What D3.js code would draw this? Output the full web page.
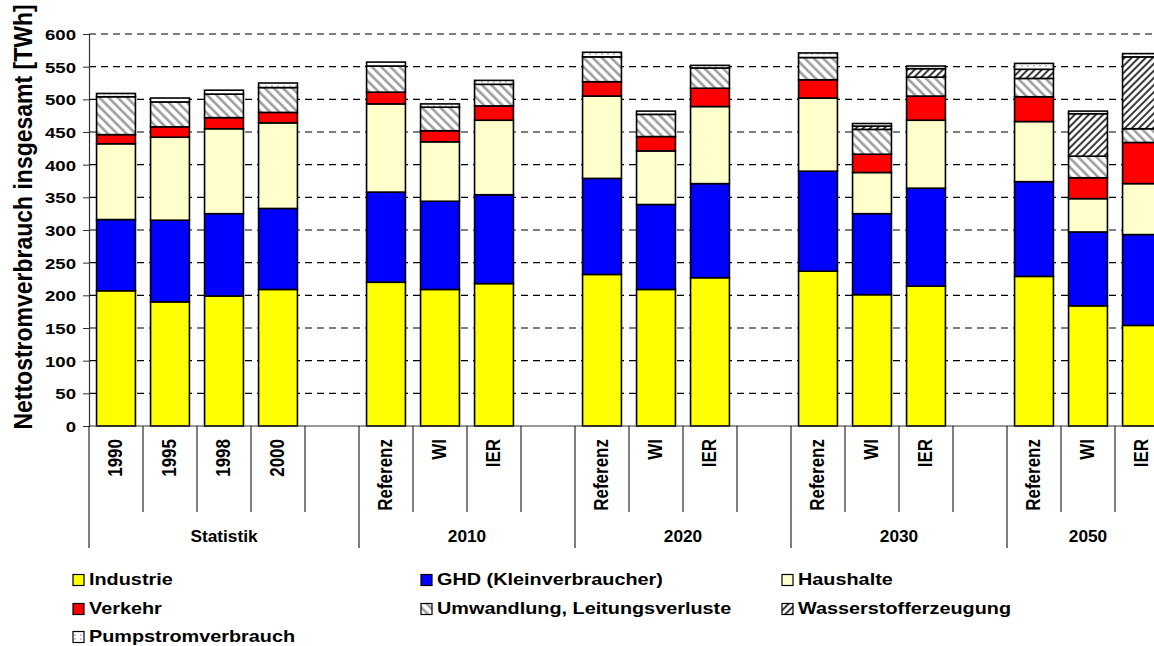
<!DOCTYPE html>
<html>
<head>
<meta charset="utf-8">
<script src="https://cdn.jsdelivr.net/npm/d3@7"></script>
<style>
  body { margin: 0; background: #fff; }
  svg { display: block; }
  text { font-family: "Liberation Sans", Arial, sans-serif; font-weight: bold; fill: #000; }
</style>
</head>
<body>
<svg id="chart" width="1154" height="646"></svg>
<script>
// Category slots (empty strings are spacer slots between groups)
const categories = ["1990", "1995", "1998", "2000", "",
                    "Referenz", "WI", "IER", "",
                    "Referenz", "WI", "IER", "",
                    "Referenz", "WI", "IER", "",
                    "Referenz", "WI", "IER"];
const groupNames = ["Statistik", "2010", "2020", "2030", "2050"];
const groupSizes = [5, 4, 4, 4, 3];

// Net electricity consumption by sector [TWh]
const industrie   = [207, 190, 199, 209, null, 220, 209, 218, null, 232, 209, 227, null, 237, 201, 214, null, 229, 184, 154];
const ghd         = [109, 125, 126, 124, null, 138, 135, 136, null, 147, 130, 144, null, 153, 124, 150, null, 145, 113, 139];
const haushalte   = [116, 127, 130, 131, null, 135,  91, 114, null, 126,  82, 118, null, 112,  63, 104, null,  92,  51,  78];
const verkehr     = [ 14,  16,  17,  16, null,  18,  17,  22, null,  22,  22,  28, null,  28,  28,  37, null,  38,  32,  63];
const umwandlung  = [ 58,  38,  36,  38, null,  40,  36,  33, null,  38,  34,  31, null,  34,  38,  29, null,  28,  33,  21];
const wasserstoff = [  0,   0,   0,   0, null,   0,   0,   0, null,   0,   0,   0, null,   0,   5,  13, null,  14,  65, 110];
const pumpstrom   = [  5,   6,   6,   7, null,   6,   5,   6, null,   7,   5,   4, null,   7,   4,   4, null,   9,   4,   5];

const yTicks = [0, 50, 100, 150, 200, 250, 300, 350, 400, 450, 500, 550, 600];

const seriesNames = ["Industrie", "GHD (Kleinverbraucher)", "Haushalte", "Verkehr",
                     "Umwandlung, Leitungsverluste", "Wasserstofferzeugung", "Pumpstromverbrauch"];
const seriesValues = [industrie, ghd, haushalte, verkehr, umwandlung, wasserstoff, pumpstrom];
const seriesFill = ["#FFFF00", "#0000FF", "#FFFFCC", "#FF0000", "url(#pUmw)", "url(#pH2)", "url(#pPump)"];

// Text in this chart is set slightly wide
const WIDE = 1.2;

const svg = d3.select("#chart");

// Fill patterns
const defs = svg.append("defs");
const pU = defs.append("pattern").attr("id", "pUmw").attr("patternUnits", "userSpaceOnUse")
  .attr("width", 6.5).attr("height", 6.5).attr("patternTransform", "rotate(-45)");
pU.append("rect").attr("width", 6.5).attr("height", 6.5).attr("fill", "#fff");
pU.append("rect").attr("width", 2.6).attr("height", 6.5).attr("fill", "#a0a0a0");

const pH = defs.append("pattern").attr("id", "pH2").attr("patternUnits", "userSpaceOnUse")
  .attr("width", 5).attr("height", 5).attr("patternTransform", "rotate(45)");
pH.append("rect").attr("width", 5).attr("height", 5).attr("fill", "#fff");
pH.append("rect").attr("width", 2).attr("height", 5).attr("fill", "#3a3a3a");

const pP = defs.append("pattern").attr("id", "pPump").attr("patternUnits", "userSpaceOnUse")
  .attr("width", 6).attr("height", 4);
pP.append("rect").attr("width", 6).attr("height", 4).attr("fill", "#fff");
pP.append("rect").attr("x", 1).attr("y", 1.5).attr("width", 2).attr("height", 1).attr("fill", "#9a9a9a");

// Scales
const x = d3.scaleBand().domain(d3.range(categories.length))
  .range([89, 89 + 54 * categories.length]).paddingInner(0.28).paddingOuter(0.14);
const y = d3.scaleLinear().domain([0, 600]).range([426, 34]);

// Dashed grid lines
svg.append("g").selectAll("line").data(yTicks.filter(d => d > 0)).join("line")
  .attr("x1", 89).attr("x2", 1154)
  .attr("y1", d => y(d)).attr("y2", d => y(d))
  .attr("stroke", "#000").attr("stroke-width", 1.1).attr("stroke-dasharray", "7,5");

// Stacked bars
const rows = categories.map((c, i) => {
  const r = { slot: i };
  seriesNames.forEach((s, k) => { r[s] = seriesValues[k][i] || 0; });
  return r;
}).filter(r => industrie[r.slot] !== null);
const stacked = d3.stack().keys(seriesNames)(rows);

svg.append("g").selectAll("g").data(stacked).join("g")
  .attr("fill", (d, k) => seriesFill[k])
  .selectAll("rect").data(d => d.filter(p => p[1] - p[0] > 0)).join("rect")
  .attr("x", d => x(d.data.slot))
  .attr("width", x.bandwidth())
  .attr("y", d => y(d[1]))
  .attr("height", d => y(d[0]) - y(d[1]))
  .attr("stroke", "#000").attr("stroke-width", 1.6);

// Y axis
const yAxis = svg.append("g").attr("transform", "translate(89,0)")
  .call(d3.axisLeft(y).tickValues(yTicks).tickSize(6).tickFormat(""));
yAxis.select(".domain").attr("stroke", "#333").attr("stroke-width", 1.2);
yAxis.selectAll(".tick line").attr("stroke", "#333");
yAxis.selectAll(".tick").append("text")
  .attr("transform", `translate(-13,0) scale(${WIDE},1)`)
  .attr("text-anchor", "end").attr("dy", "0.36em")
  .attr("font-size", 15.5).attr("fill", "#000")
  .text(d => d);

svg.append("text")
  .attr("transform", "translate(23,217) rotate(-90) scale(1,1.1)")
  .attr("text-anchor", "middle").attr("dominant-baseline", "central")
  .attr("font-size", 23)
  .text("Nettostromverbrauch insgesamt [TWh]");

// X axis line
svg.append("line").attr("x1", 89).attr("x2", 1154).attr("y1", 426).attr("y2", 426)
  .attr("stroke", "#333").attr("stroke-width", 1.2);

// Category separators and labels
const bounds = d3.range(categories.length + 1).map(i => 89 + 54 * i);
const groupStarts = [0];
groupSizes.forEach(s => groupStarts.push(groupStarts[groupStarts.length - 1] + s));
svg.append("g").selectAll("line").data(d3.range(categories.length + 1)).join("line")
  .attr("x1", i => bounds[i]).attr("x2", i => bounds[i])
  .attr("y1", 426)
  .attr("y2", i => groupStarts.includes(i) ? 548 : 512)
  .attr("stroke", "#000").attr("stroke-width", 1);

svg.append("g").selectAll("text").data(categories.map((c, i) => ({ c, i })).filter(d => d.c)).join("text")
  .attr("transform", d => `translate(${x(d.i) + x.bandwidth() / 2 - 1},439) rotate(-90) scale(1,${WIDE})`)
  .attr("text-anchor", "end").attr("dominant-baseline", "central")
  .attr("font-size", 17)
  .text(d => d.c);

svg.append("g").selectAll("text").data(groupNames).join("text")
  .attr("transform", (g, k) => `translate(${(bounds[groupStarts[k]] + bounds[groupStarts[k + 1]]) / 2},542) scale(1.08,1)`)
  .attr("text-anchor", "middle").attr("font-size", 16)
  .text(g => g);

// Legend
const legendCols = [73, 421, 782];
const legendRows = [580, 609, 637];
const legend = svg.append("g").selectAll("g").data(seriesNames).join("g")
  .attr("transform", (d, k) => `translate(${legendCols[k % 3]},${legendRows[Math.floor(k / 3)]})`);
legend.append("rect").attr("x", 0).attr("y", -5.5).attr("width", 11).attr("height", 11)
  .attr("fill", (d, k) => seriesFill[k]).attr("stroke", "#000").attr("stroke-width", 1.2);
legend.append("text").attr("transform", "translate(16,0) scale(1.24,1)")
  .attr("dominant-baseline", "central")
  .attr("font-size", 16).text(d => d);
</script>
</body>
</html>
